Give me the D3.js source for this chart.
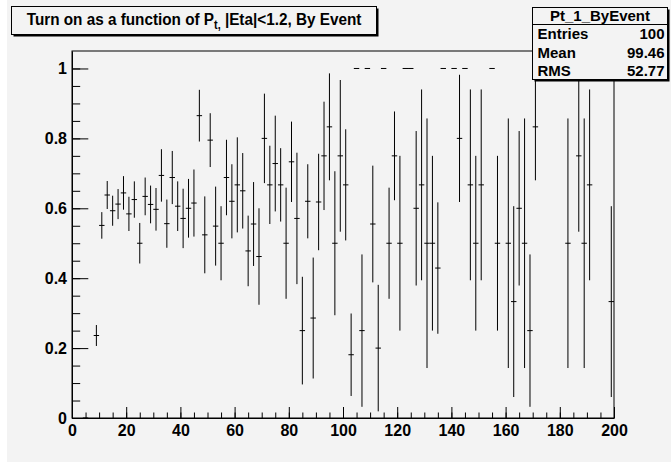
<!DOCTYPE html>
<html>
  <head>
    <title>Turn on as a function of Pt</title>
    <script src="https://d3js.org/d3.v7.min.js"></script>
    <style>
      body {
        margin: 0;
        background: #f3f3f3;
      }
      text {
        font-family: "Liberation Sans", Arial, Helvetica, sans-serif;
        font-weight: bold;
        fill: #000;
      }
    </style>
  </head>
  <body>
    <div id="chart"></div>
    <script>
      // bin centres (bin width 2), efficiency and binomial error per bin
      const bins = [
        5, 9, 11, 13, 15, 17, 19, 21, 23, 25, 27, 29, 31, 33, 35, 37, 39, 41,
        43, 45, 47, 49, 51, 53, 55, 57, 59, 61, 63, 65, 67, 69, 71, 73, 75, 77,
        79, 81, 83, 85, 87, 89, 91, 93, 95, 97, 99, 101, 103, 105, 107, 109,
        111, 113, 115, 117, 119, 121, 123, 125, 127, 129, 131, 133, 135, 137,
        141, 143, 145, 147, 149, 151, 155, 157, 161, 163, 165, 167, 169, 171,
        183, 187, 189, 191, 199,
      ];
      const eff = [
        0, 0.236, 0.551, 0.638, 0.593, 0.612, 0.644, 0.584, 0.625, 0.5, 0.634,
        0.611, 0.597, 0.694, 0.556, 0.688, 0.606, 0.571, 0.6, 0.615, 0.865,
        0.524, 0.795, 0.549, 0.5, 0.688, 0.62, 0.667, 0.65, 0.478, 0.555,
        0.462, 0.8, 0.667, 0.728, 0.667, 0.5, 0.733, 0.571, 0.25, 0.62, 0.286,
        0.618, 0.75, 0.833, 0.5, 0.75, 0.667, 0.181, 1, 0.25, 1, 0.555, 0.2, 1,
        0.5, 0.75, 0.5, 1, 1, 0.6, 0.667, 0.5, 0.5, 0.429, 1, 1, 0.8, 1, 0.667,
        0.5, 0.667, 1, 0.5, 0.5, 0.333, 0.6, 0.5, 0.25, 0.833, 0.5, 0.75, 0.5,
        0.667, 0.333,
      ];
      const err = [
        0, 0.03, 0.038, 0.04, 0.043, 0.043, 0.048, 0.049, 0.052, 0.058, 0.054,
        0.054, 0.061, 0.075, 0.069, 0.076, 0.071, 0.085, 0.084, 0.096, 0.074,
        0.11, 0.077, 0.113, 0.106, 0.108, 0.106, 0.136, 0.108, 0.101, 0.12,
        0.138, 0.128, 0.112, 0.137, 0.105, 0.159, 0.115, 0.188, 0.154, 0.106,
        0.173, 0.138, 0.155, 0.153, 0.206, 0.217, 0.159, 0.118, 0, 0.218, 0,
        0.167, 0.181, 0, 0.159, 0.127, 0.25, 0, 0, 0.221, 0.273, 0.357, 0.25,
        0.188, 0, 0, 0.182, 0, 0.273, 0.25, 0.273, 0, 0.25, 0.357, 0.273,
        0.221, 0.357, 0.218, 0.153, 0.357, 0.217, 0.357, 0.273, 0.273,
      ];
      const binWidth = 2;
      const xTicks = [0, 20, 40, 60, 80, 100, 120, 140, 160, 180, 200];
      const yTicks = [0, 0.2, 0.4, 0.6, 0.8, 1];
      const statRows = [
        ["Entries", "100"],
        ["Mean", "99.46"],
        ["RMS", "52.77"],
      ];

      const W = 671,
        H = 462;
      const margin = { top: 51, right: 57, bottom: 44, left: 72 },
        width = W - margin.left - margin.right,
        height = H - margin.top - margin.bottom;

      const root = d3
        .select("#chart")
        .append("svg")
        .attr("width", W)
        .attr("height", H);

      root.append("rect").attr("width", W).attr("height", H).attr("fill", "#f3f3f3");
      root.append("rect").attr("width", 7).attr("height", H).attr("fill", "#fff");

      const svg = root
        .append("g")
        .attr("transform", `translate(${margin.left},${margin.top})`);

      const x = d3.scaleLinear().domain([0, 200]).range([0, width]);
      const y = d3.scaleLinear().domain([0, 1.05]).range([height, 0]);

      // minor ticks
      svg
        .append("g")
        .attr("transform", `translate(0,${height})`)
        .call(
          d3.axisBottom(x).tickValues(d3.range(0, 201, 5)).tickSize(-5.5).tickSizeOuter(0).tickFormat("")
        );
      svg
        .append("g")
        .call(
          d3.axisLeft(y).tickValues(d3.range(0, 1.01, 0.05)).tickSize(-8.2).tickSizeOuter(0).tickFormat("")
        );

      // major ticks + labels
      const xAxis = svg
        .append("g")
        .attr("transform", `translate(0,${height})`)
        .call(
          d3.axisBottom(x).tickValues(xTicks).tickSize(-11).tickSizeOuter(0).tickPadding(7).tickFormat(d3.format("d"))
        );
      const yAxis = svg
        .append("g")
        .call(
          d3.axisLeft(y).tickValues(yTicks).tickSize(-16.3).tickSizeOuter(0).tickPadding(5).tickFormat((d) => d3.format("")(+d.toFixed(1)))
        );
      [xAxis, yAxis].forEach((a) => {
        a.selectAll("text").style("font-size", "16px").style("font-family", null);
        a.selectAll("line").attr("stroke", "#000");
        a.select(".domain").remove();
      });

      // frame
      svg
        .append("rect")
        .attr("width", width)
        .attr("height", height)
        .attr("fill", "none")
        .attr("stroke", "#000");

      // error bars
      const pts = bins.map((b, i) => ({ b, v: eff[i], e: err[i] }));
      const g = svg.append("g").attr("stroke", "#000").attr("stroke-width", 1);
      g.selectAll("line.v")
        .data(pts.filter((d) => d.e > 0))
        .join("line")
        .attr("class", "v")
        .attr("x1", (d) => x(d.b))
        .attr("x2", (d) => x(d.b))
        .attr("y1", (d) => y(Math.min(d.v + d.e, 1.05)))
        .attr("y2", (d) => y(Math.max(d.v - d.e, 0)));
      g.selectAll("line.h")
        .data(pts)
        .join("line")
        .attr("class", "h")
        .attr("x1", (d) => x(d.b - binWidth / 2))
        .attr("x2", (d) => x(d.b + binWidth / 2))
        .attr("y1", (d) => y(d.v))
        .attr("y2", (d) => y(d.v));

      // title pave
      const tb = { x: 11.5, y: 6.5, w: 365, h: 28 };
      root.append("rect").attr("x", tb.x + 2).attr("y", tb.y + 2).attr("width", tb.w).attr("height", tb.h).attr("fill", "#000");
      root.append("rect").attr("x", tb.x).attr("y", tb.y).attr("width", tb.w).attr("height", tb.h).attr("fill", "#f3f3f3").attr("stroke", "#000");
      const title = root
        .append("text")
        .attr("transform", `translate(${tb.x + tb.w / 2},25) scale(0.9,1)`)
        .attr("text-anchor", "middle")
        .style("font-size", "17px");
      title.append("tspan").text("Turn on as a function of P");
      title.append("tspan").attr("dy", 4).style("font-size", "12px").text("t");
      title.append("tspan").style("font-size", "12px").text(",");
      title.append("tspan").attr("dy", -4).text(" |Eta|<1.2, By Event");

      // stats pave
      const sb = { x: 532.5, y: 7.5, w: 135, h: 72 };
      root.append("rect").attr("x", sb.x + 2).attr("y", sb.y + 2).attr("width", sb.w).attr("height", sb.h).attr("fill", "#000");
      root.append("rect").attr("x", sb.x).attr("y", sb.y).attr("width", sb.w).attr("height", sb.h).attr("fill", "#f3f3f3").attr("stroke", "#000");
      root.append("line").attr("x1", sb.x).attr("x2", sb.x + sb.w).attr("y1", 24.5).attr("y2", 24.5).attr("stroke", "#000");
      root
        .append("text")
        .attr("x", sb.x + sb.w / 2)
        .attr("y", 21)
        .attr("text-anchor", "middle")
        .style("font-size", "15px")
        .text("Pt_1_ByEvent");
      statRows.forEach(([k, v], i) => {
        const yy = 39 + i * 18.5;
        root.append("text").attr("x", sb.x + 5).attr("y", yy).style("font-size", "15px").text(k);
        root.append("text").attr("x", sb.x + sb.w - 3).attr("y", yy).attr("text-anchor", "end").style("font-size", "15px").text(v);
      });
    </script>
  </body>
</html>
